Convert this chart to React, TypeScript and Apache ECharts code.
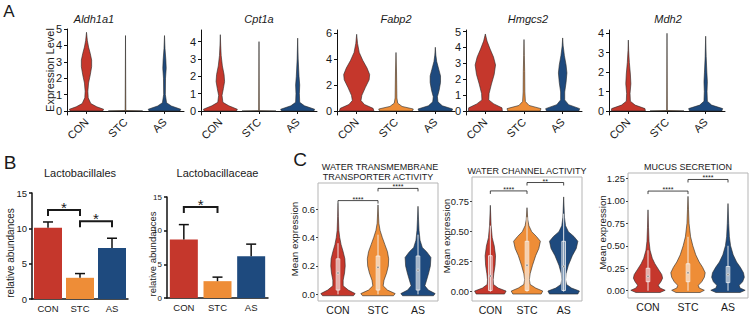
import React, { useEffect, useRef } from 'react';
import * as echarts from 'echarts';

const FONT = "'Liberation Sans', Arial, Helvetica, sans-serif";
const groups = ['CON', 'STC', 'AS'];
const palette = ['#c5372c', '#ee8d37', '#1e4a7e'];

// ---------- Panel A: single-cell expression violins: [value, relative half-width] ----------
const genesA = ['Aldh1a1', 'Cpt1a', 'Fabp2', 'Hmgcs2', 'Mdh2'];
const aldh1a1CON = [[0, 0.95], [0.1, 1], [0.25, 0.6], [0.45, 0.25], [0.8, 0.1], [1.2, 0.08], [1.7, 0.12], [2.2, 0.22], [2.7, 0.3], [3.1, 0.3], [3.5, 0.22], [3.9, 0.12], [4.3, 0.05], [4.8, 0]];
const aldh1a1STC = [[0, 1], [0.02, 0.02], [4.6, 0]];
const aldh1a1AS = [[0, 0.9], [0.1, 0.95], [0.3, 0.4], [0.5, 0.12], [1, 0.05], [2, 0.06], [2.6, 0.1], [3.1, 0.08], [3.8, 0.03], [4.6, 0]];
const cpt1aCON = [[0, 0.95], [0.1, 1], [0.3, 0.5], [0.5, 0.15], [0.9, 0.1], [1.3, 0.18], [1.7, 0.25], [2.1, 0.22], [2.6, 0.12], [3.2, 0.05], [3.8, 0.02], [4.4, 0]];
const cpt1aSTC = [[0, 1], [0.02, 0.02], [4.0, 0]];
const cpt1aAS = [[0, 0.95], [0.1, 1], [0.3, 0.4], [0.5, 0.12], [1, 0.1], [1.5, 0.12], [2, 0.08], [3, 0.03], [4.2, 0]];
const fabp2CON = [[0, 1], [0.2, 0.95], [0.5, 0.45], [0.8, 0.25], [1.2, 0.3], [1.8, 0.5], [2.4, 0.72], [2.8, 0.75], [3.3, 0.6], [3.9, 0.35], [4.5, 0.15], [5.2, 0.05], [5.9, 0]];
const fabp2STC = [[0, 0.95], [0.15, 1], [0.35, 0.35], [0.6, 0.1], [1, 0.05], [2, 0.04], [3, 0.03], [4.5, 0]];
const fabp2AS = [[0, 0.95], [0.15, 1], [0.4, 0.4], [0.7, 0.15], [1.1, 0.12], [1.6, 0.22], [2.2, 0.3], [2.7, 0.3], [3.2, 0.2], [3.8, 0.08], [4.3, 0.03], [4.9, 0]];
const hmgcs2CON = [[0, 1], [0.2, 0.98], [0.45, 0.5], [0.7, 0.2], [1.1, 0.22], [1.7, 0.36], [2.3, 0.52], [2.9, 0.6], [3.4, 0.48], [3.9, 0.28], [4.4, 0.1], [4.85, 0]];
const hmgcs2STC = [[0, 0.95], [0.15, 1], [0.35, 0.3], [0.6, 0.08], [1.2, 0.05], [2.5, 0.04], [3.5, 0.02], [4.5, 0]];
const hmgcs2AS = [[0, 0.95], [0.15, 1], [0.4, 0.35], [0.7, 0.12], [1.2, 0.12], [1.8, 0.2], [2.4, 0.25], [2.9, 0.2], [3.5, 0.1], [4.1, 0.03], [4.6, 0]];
const mdh2CON = [[0, 1], [0.12, 0.98], [0.3, 0.4], [0.5, 0.12], [0.9, 0.1], [1.4, 0.15], [1.9, 0.12], [2.5, 0.06], [3.1, 0.02], [3.65, 0]];
const mdh2STC = [[0, 1], [0.02, 0.02], [4.0, 0]];
const mdh2AS = [[0, 0.95], [0.12, 1], [0.3, 0.35], [0.5, 0.1], [1, 0.08], [1.5, 0.1], [2, 0.07], [2.8, 0.03], [3.85, 0]];
const violinsA = [
  [aldh1a1CON, aldh1a1STC, aldh1a1AS],
  [cpt1aCON, cpt1aSTC, cpt1aAS],
  [fabp2CON, fabp2STC, fabp2AS],
  [hmgcs2CON, hmgcs2STC, hmgcs2AS],
  [mdh2CON, mdh2STC, mdh2AS],
];
const ticksA = [[0, 1, 2, 3, 4, 5], [0, 1, 2, 3, 4], [0, 2, 4, 6], [0, 1, 2, 3, 4, 5], [0, 1, 2, 3, 4]];
const rangeA = [[-0.25, 5], [-0.23, 4.67], [-0.31, 6.23], [-0.25, 5.1], [-0.21, 4.17]];

// ---------- Panel B: relative abundances (mean, SEM) ----------
const titlesB = ['Lactobacillales', 'Lactobacillaceae'];
const lactobacillalesMean = [10.1, 3.0, 7.2];
const lactobacillalesErr = [0.8, 0.6, 1.4];
const lactobacillaceaeMean = [8.7, 2.5, 6.2];
const lactobacillaceaeErr = [2.2, 0.6, 1.8];
const ticksB = [0, 5, 10, 15];
// significance: [from, to, level]
const sigB1 = [[0, 1, 12.6], [1, 2, 11.0]];
const sigB1Labels = ['*', '*'];
const sigB2 = [[0, 1, 13.5]];
const sigB2Labels = ['*'];

// ---------- Panel C: GO-term mean expression violins ----------
const titlesC = [['WATER TRANSMEMBRANE', 'TRANSPORTER ACTIVITY'], ['WATER CHANNEL ACTIVITY'], ['MUCUS SECRETION']];
const waterTransCON = [[-0.01, 0.9], [0.005, 1], [0.03, 0.6], [0.06, 0.3], [0.1, 0.3], [0.15, 0.38], [0.2, 0.42], [0.25, 0.4], [0.3, 0.3], [0.35, 0.18], [0.4, 0.1], [0.45, 0.05], [0.55, 0.02], [0.64, 0]];
const waterTransSTC = [[-0.01, 0.9], [0.005, 1], [0.03, 0.55], [0.06, 0.3], [0.1, 0.35], [0.15, 0.5], [0.2, 0.6], [0.25, 0.62], [0.3, 0.55], [0.35, 0.4], [0.4, 0.25], [0.45, 0.12], [0.5, 0.05], [0.63, 0]];
const waterTransAS = [[-0.01, 0.9], [0.005, 1], [0.03, 0.6], [0.06, 0.4], [0.1, 0.5], [0.15, 0.62], [0.2, 0.72], [0.26, 0.75], [0.3, 0.5], [0.33, 0.25], [0.38, 0.12], [0.45, 0.06], [0.53, 0.03], [0.62, 0]];
const waterChanCON = [[-0.02, 0.9], [0.005, 1], [0.03, 0.5], [0.06, 0.2], [0.1, 0.18], [0.15, 0.22], [0.22, 0.3], [0.3, 0.33], [0.38, 0.25], [0.45, 0.12], [0.55, 0.05], [0.72, 0]];
const waterChanSTC = [[-0.02, 0.9], [0.005, 1], [0.03, 0.55], [0.06, 0.2], [0.1, 0.15], [0.15, 0.2], [0.22, 0.35], [0.3, 0.55], [0.36, 0.75], [0.42, 0.85], [0.46, 0.6], [0.5, 0.3], [0.55, 0.12], [0.6, 0.05], [0.7, 0]];
const waterChanAS = [[-0.02, 0.9], [0.005, 1], [0.03, 0.5], [0.06, 0.18], [0.1, 0.12], [0.15, 0.15], [0.22, 0.3], [0.3, 0.55], [0.36, 0.8], [0.42, 0.9], [0.46, 0.65], [0.5, 0.3], [0.55, 0.12], [0.62, 0.05], [0.79, 0]];
const mucusCON = [[-0.02, 0.7], [0.005, 1], [0.03, 0.7], [0.06, 0.6], [0.1, 0.75], [0.14, 0.85], [0.18, 0.8], [0.24, 0.6], [0.3, 0.4], [0.36, 0.25], [0.45, 0.12], [0.55, 0.06], [0.7, 0.03], [0.9, 0]];
const mucusSTC = [[-0.02, 0.7], [0.005, 0.95], [0.03, 0.65], [0.06, 0.6], [0.1, 0.8], [0.15, 0.95], [0.2, 1.0], [0.26, 0.85], [0.32, 0.65], [0.4, 0.45], [0.5, 0.28], [0.6, 0.15], [0.75, 0.06], [0.9, 0.03], [1.05, 0]];
const mucusAS = [[-0.02, 0.7], [0.005, 1], [0.03, 0.7], [0.06, 0.65], [0.1, 0.85], [0.15, 0.95], [0.2, 0.9], [0.26, 0.72], [0.32, 0.5], [0.4, 0.3], [0.5, 0.15], [0.6, 0.08], [0.75, 0.04], [0.97, 0]];
const violinsC = [
  [waterTransCON, waterTransSTC, waterTransAS],
  [waterChanCON, waterChanSTC, waterChanAS],
  [mucusCON, mucusSTC, mucusAS],
];
// box stats: [whiskerLow, q1, median, q3, whiskerHigh]
const boxC = [
  [[0, 0.03, 0.15, 0.25, 0.36], [0, 0.03, 0.19, 0.27, 0.42], [0, 0.03, 0.17, 0.27, 0.42]],
  [[0, 0.01, 0.13, 0.3, 0.55], [0, 0.01, 0.22, 0.42, 0.62], [0, 0.01, 0.21, 0.42, 0.65]],
  [[0, 0.1, 0.16, 0.25, 0.45], [0, 0.1, 0.2, 0.3, 0.6], [0, 0.09, 0.18, 0.27, 0.5]],
];
const ticksC = [[0, 0.2, 0.4, 0.6], [0, 0.25, 0.5, 0.75], [0, 0.25, 0.5, 0.75, 1.0, 1.25]];
const rangeC = [[-0.047, 0.784], [-0.078, 0.956], [-0.081, 1.31]];
const sigC = [[[0, 1, 0.66], [1, 2, 0.746]], [[0, 1, 0.84], [1, 2, 0.91]], [[0, 1, 1.109], [1, 2, 1.238]]];
const sigCLabels = [['****', '****'], ['****', '**'], ['****', '****']];

// ---------- layout ----------
const gridsA = [
  { left: 67, top: 29, width: 117, height: 86 },
  { left: 201, top: 30, width: 116, height: 85 },
  { left: 337, top: 30, width: 118, height: 85 },
  { left: 466, top: 30, width: 116, height: 85 },
  { left: 609, top: 30, width: 116, height: 85 },
];
const titleXA = [94, 259, 396, 528, 668];
const gridsB = [
  { left: 32, top: 193, width: 96, height: 106 },
  { left: 167, top: 197, width: 101, height: 101 },
];
const gridsC = [
  { left: 318, top: 183, width: 120, height: 118 },
  { left: 472, top: 177, width: 110, height: 124 },
  { left: 628, top: 173, width: 120, height: 125 },
];

function violinRenderer(profiles: number[][][], colors: string[], halfFrac: number, stats?: number[][]) {
  return (params: any, api: any) => {
    const i = params.dataIndex;
    const prof = profiles[i];
    const c0 = api.coord([0, 0]);
    const c1 = api.coord([1, 0]);
    const band = Math.abs(c1[0] - c0[0]);
    const hw = band * halfFrac;
    const cx = api.coord([i, 0])[0];
    const left: number[][] = [];
    const right: number[][] = [];
    for (const [v, w] of prof) {
      const y = api.coord([i, v])[1];
      left.push([cx - w * hw, y]);
      right.push([cx + w * hw, y]);
    }
    const pts = left.concat(right.reverse());
    const children: any[] = [
      { type: 'polygon', shape: { points: pts }, style: { fill: colors[i], stroke: '#262626', lineWidth: 0.6 } },
    ];
    if (stats) {
      const [lo, q1, med, q3, hi] = stats[i];
      const yLo = api.coord([i, lo])[1];
      const yQ1 = api.coord([i, q1])[1];
      const yMed = api.coord([i, med])[1];
      const yQ3 = api.coord([i, q3])[1];
      const yHi = api.coord([i, hi])[1];
      children.push({ type: 'line', shape: { x1: cx, y1: yLo, x2: cx, y2: yHi }, style: { stroke: '#f6f6f6', lineWidth: 0.9 } });
      children.push({ type: 'rect', shape: { x: cx - 1.8, y: yQ3, width: 3.6, height: yQ1 - yQ3 }, style: { fill: 'rgba(255,255,255,0.3)', stroke: '#f6f6f6', lineWidth: 0.8 } });
      children.push({ type: 'circle', shape: { cx, cy: yMed, r: 1.2 }, style: { fill: '#8a8a8a', stroke: '#ffffff', lineWidth: 0.5 } });
    }
    return { type: 'group', children };
  };
}

function sigRenderer(items: number[][], labels: string[], drop: number, lw: number, fontSize: number, textGap: number) {
  return (params: any, api: any) => {
    const [a, b, lvl] = items[params.dataIndex];
    const p1 = api.coord([a, lvl]);
    const p2 = api.coord([b, lvl]);
    return {
      type: 'group',
      children: [
        { type: 'polyline', shape: { points: [[p1[0], p1[1] + drop], [p1[0], p1[1]], [p2[0], p2[1]], [p2[0], p2[1] + drop]] }, style: { stroke: '#1a1a1a', lineWidth: lw, fill: 'none' } },
        { type: 'text', x: (p1[0] + p2[0]) / 2, y: p1[1] + textGap, style: { text: labels[params.dataIndex], fontSize, fontFamily: FONT, fill: '#1a1a1a', align: 'center', verticalAlign: 'bottom', textAlign: 'center', textVerticalAlign: 'bottom' } },
      ],
    };
  };
}

function errRenderer(means: number[], errs: number[]) {
  return (params: any, api: any) => {
    const i = params.dataIndex;
    const p0 = api.coord([i, means[i]]);
    const p1 = api.coord([i, means[i] + errs[i]]);
    return {
      type: 'group',
      children: [
        { type: 'line', shape: { x1: p0[0], y1: p0[1], x2: p1[0], y2: p1[1] }, style: { stroke: '#111', lineWidth: 1.5 } },
        { type: 'line', shape: { x1: p1[0] - 5, y1: p1[1], x2: p1[0] + 5, y2: p1[1] }, style: { stroke: '#111', lineWidth: 1.5 } },
      ],
    };
  };
}

function txt(text: string, x: number, y: number, size: number, opts: any = {}) {
  return {
    type: 'text', x, y, rotation: opts.rot || 0, silent: true,
    style: {
      text, fontSize: size, fontFamily: FONT, fontStyle: opts.italic ? 'italic' : 'normal',
      fill: opts.color || '#1a1a1a', align: opts.align || 'center', verticalAlign: 'middle',
      textAlign: opts.align || 'center', textVerticalAlign: 'middle',
    },
  };
}

function buildOption() {
  const grid: any[] = [];
  const xAxis: any[] = [];
  const yAxis: any[] = [];
  const series: any[] = [];
  const graphic: any[] = [];

  // Panel A
  gridsA.forEach((g, k) => {
    const gi = grid.length;
    grid.push({ ...g, outerBoundsMode: 'none', containLabel: false });
    xAxis.push({
      type: 'category', gridIndex: gi, data: groups,
      axisLine: { show: true, lineStyle: { color: '#111', width: 1 } },
      axisTick: { show: true, alignWithLabel: true, length: 3, lineStyle: { color: '#111' } },
      axisLabel: { show: true, rotate: 45, interval: 0, hideOverlap: false, fontSize: 11, color: '#1a1a1a', margin: 5, fontFamily: FONT },
    });
    yAxis.push({
      type: 'value', gridIndex: gi, min: rangeA[k][0], max: rangeA[k][1],
      axisLine: { show: true, lineStyle: { color: '#111', width: 1 } },
      axisTick: { show: true, length: 3, customValues: ticksA[k], lineStyle: { color: '#111' } },
      axisLabel: { customValues: ticksA[k], fontSize: 11, color: '#1a1a1a', margin: 5, fontFamily: FONT },
      splitLine: { show: false },
    });
    series.push({
      type: 'custom', xAxisIndex: gi, yAxisIndex: gi, clip: false,
      data: groups.map((_, i) => [i, 0]), encode: { x: 0, y: 1 },
      renderItem: violinRenderer(violinsA[k], palette, 0.44),
    });
    graphic.push(txt(genesA[k], titleXA[k], 19, 11, { italic: true }));
  });
  graphic.push(txt('Expression Level', 50, 70, 11, { rot: Math.PI / 2 }));
  graphic.push(txt('A', 9, 11, 17));

  // Panel B
  const bMeans = [lactobacillalesMean, lactobacillaceaeMean];
  const bErrs = [lactobacillalesErr, lactobacillaceaeErr];
  const bSig = [sigB1, sigB2];
  const bSigL = [sigB1Labels, sigB2Labels];
  const bTickFont = [9.5, 8];
  gridsB.forEach((g, k) => {
    const gi = grid.length;
    grid.push({ ...g, outerBoundsMode: 'none', containLabel: false });
    xAxis.push({
      type: 'category', gridIndex: gi, data: groups,
      axisLine: { show: true, lineStyle: { color: '#111', width: 1.5 } },
      axisTick: { show: false },
      axisLabel: { fontSize: 9.5, color: '#1a1a1a', margin: 4, fontFamily: FONT },
    });
    yAxis.push({
      type: 'value', gridIndex: gi, min: 0, max: 15, interval: 5,
      axisLine: { show: true, lineStyle: { color: '#111', width: 1.5 } },
      axisTick: { show: true, length: 3, customValues: ticksB, lineStyle: { color: '#111', width: 1.5 } },
      axisLabel: { customValues: ticksB, fontSize: bTickFont[k], color: '#1a1a1a', margin: 5, fontFamily: FONT },
      splitLine: { show: false },
    });
    series.push({
      type: 'bar', xAxisIndex: gi, yAxisIndex: gi, barWidth: 28,
      data: bMeans[k].map((v, i) => ({ value: v, itemStyle: { color: palette[i] } })),
    });
    series.push({
      type: 'custom', xAxisIndex: gi, yAxisIndex: gi, clip: false, z: 5,
      data: bMeans[k].map((v, i) => [i, v + bErrs[k][i]]), encode: { x: 0, y: 1 },
      renderItem: errRenderer(bMeans[k], bErrs[k]),
    });
    series.push({
      type: 'custom', xAxisIndex: gi, yAxisIndex: gi, clip: false, z: 5,
      data: bSig[k].map((s) => [s[0], s[2]]), encode: { x: 0, y: 1 },
      renderItem: sigRenderer(bSig[k], bSigL[k], 6, 2, 15, 5),
    });
    graphic.push(txt(titlesB[k], g.left + g.width / 2, 173, 11));
  });
  graphic.push(txt('relative abundances', 10, 253, 10, { rot: Math.PI / 2 }));
  graphic.push(txt('relative abundances', 152, 254, 9.5, { rot: Math.PI / 2 }));
  graphic.push(txt('B', 10, 162, 19));

  // Panel C
  gridsC.forEach((g, k) => {
    const gi = grid.length;
    grid.push({ ...g, outerBoundsMode: 'none', containLabel: false, show: true, borderColor: '#b5b5b5', borderWidth: 1, backgroundColor: 'transparent' });
    xAxis.push({
      type: 'category', gridIndex: gi, data: groups,
      axisLine: { show: false },
      axisTick: { show: false },
      axisLabel: { fontSize: 10.5, color: '#1a1a1a', margin: 3, fontFamily: FONT },
    });
    const dec = k === 0 ? 1 : 2;
    yAxis.push({
      type: 'value', gridIndex: gi, min: rangeC[k][0], max: rangeC[k][1],
      axisLine: { show: false },
      axisTick: { show: true, length: 2, customValues: ticksC[k], lineStyle: { color: '#444' } },
      axisLabel: { customValues: ticksC[k], fontSize: 9.4, color: '#1a1a1a', margin: 3, fontFamily: FONT, formatter: (v: number) => v.toFixed(dec) },
      splitLine: { show: false },
    });
    series.push({
      type: 'custom', xAxisIndex: gi, yAxisIndex: gi, clip: false,
      data: groups.map((_, i) => [i, 0]), encode: { x: 0, y: 1 },
      renderItem: violinRenderer(violinsC[k], palette, 0.43, boxC[k]),
    });
    series.push({
      type: 'custom', xAxisIndex: gi, yAxisIndex: gi, clip: false, z: 5,
      data: sigC[k].map((s) => [s[0], s[2]]), encode: { x: 0, y: 1 },
      renderItem: sigRenderer(sigC[k], sigCLabels[k], 3, 0.8, 7, 2),
    });
    const cx = g.left + g.width / 2;
    const lines = titlesC[k];
    if (lines.length === 2) {
      graphic.push(txt(lines[0], cx + 2, 166.5, 9));
      graphic.push(txt(lines[1], cx, 177, 9));
    } else {
      graphic.push(txt(lines[0], cx, k === 1 ? 171 : 166.5, 9));
    }
    graphic.push(txt('Mean expression', g.left - (k === 0 ? 24 : 26), g.top + g.height / 2 - 3, 9.8, { rot: Math.PI / 2 }));
  });
  graphic.push(txt('C', 300, 159, 19));

  return { animation: false, backgroundColor: '#ffffff', grid, xAxis, yAxis, series, graphic };
}

export default function App() {
  const ref = useRef<HTMLDivElement>(null);
  useEffect(() => {
    document.body.style.margin = '0';
    if (!ref.current) return;
    const chart = echarts.init(ref.current, null, { renderer: 'svg' });
    chart.setOption(buildOption() as any);
    return () => chart.dispose();
  }, []);
  return <div ref={ref} style={{ width: 751, height: 314 }} />;
}
